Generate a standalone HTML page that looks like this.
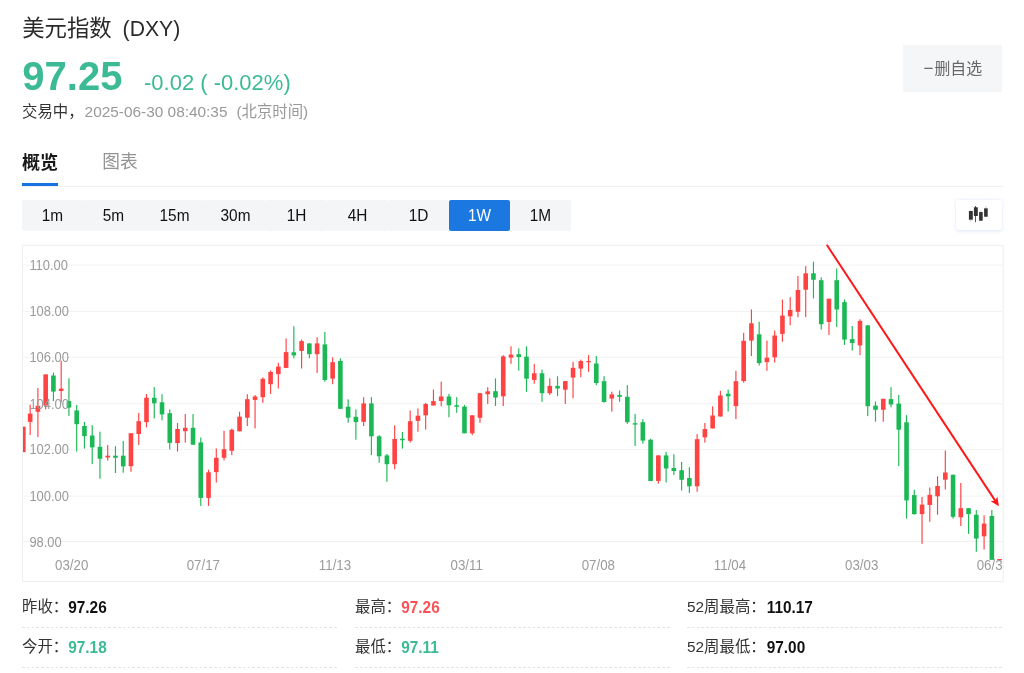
<!DOCTYPE html>
<html lang="zh-CN">
<head>
<meta charset="utf-8">
<title>美元指数 (DXY)</title>
<style>
*{box-sizing:border-box;margin:0;padding:0}
html,body{width:1024px;height:673px;overflow:hidden;background:#fff}
body{font-family:"Liberation Sans","Noto Sans CJK SC",sans-serif;color:#333;position:relative}
.abs{position:absolute;white-space:nowrap}
.title{left:22.2px;top:14px;font-size:22.4px;line-height:30px;color:#2a2a2a}
.title span{margin-left:4.6px;font-size:21.2px}
.price{left:22.3px;top:53.4px;font-size:40px;line-height:46px;font-weight:bold;color:#3bba95}
.chg{left:144px;top:69.6px;font-size:22px;line-height:26px;color:#3bba95}
.status{left:22px;top:101px;font-size:15.4px;line-height:22px;color:#333}
.status span{color:#999;margin-left:1px}.status i{font-style:normal;margin-left:4.6px}
.fav{left:902.5px;top:45px;width:99.3px;height:47px;background:#f5f6f8;color:#666;font-size:15.9px;line-height:47.2px;text-align:center;padding-left:1.4px}.fav span{position:relative;top:-.3px;font-size:17px;margin-right:.9px;line-height:1px}
.tab1{left:22px;top:149.8px;font-size:18.1px;line-height:26px;font-weight:bold;color:#181818}
.tab2{left:102.2px;top:149.4px;font-size:17.7px;line-height:26px;color:#939393}
.tabline{left:22px;top:183.3px;width:35.7px;height:2.9px;background:#1672e2}
.tabborder{left:22px;top:185.7px;width:981px;height:1px;background:#f0f0f0}
.tf{left:22px;top:200.2px;height:31.3px;display:flex}
.tf div{width:61px;height:31.3px;line-height:32.6px;text-align:center;font-size:15.4px;color:#111;background:#f4f5f7;border-radius:2px}
.tf span{display:inline-block;transform:scaleY(1.07);transform-origin:50% 55%}.tf div.on{background:#1a78e0;color:#fff}
.kbtn{left:956px;top:200px;width:46px;height:30px;background:#fff;border-radius:3px;box-shadow:0 .6px 3.5px rgba(40,100,200,.17)}
.stat{font-size:15.4px;line-height:22px;color:#333}
.stat b{font-weight:bold;color:#111;display:inline-block;transform:scaleY(1.13);transform-origin:50% 52%}
.stat b.r{color:#fb5257}
.stat b.g{color:#3bba95}
.dash{height:1px;background:repeating-linear-gradient(90deg,#e3e3e3 0,#e3e3e3 2.7px,transparent 2.7px,transparent 4.8px)}
</style>
</head>
<body>
<div class="abs title">美元指数 <span>(DXY)</span></div>
<div class="abs price">97.25</div>
<div class="abs chg">-0.02 ( -0.02%)</div>
<div class="abs status">交易中，<span>2025-06-30 08:40:35 <i>(北京时间)</i></span></div>
<div class="abs fav"><span>−</span>删自选</div>
<div class="abs tab1">概览</div>
<div class="abs tab2">图表</div>
<div class="abs tabborder"></div>
<div class="abs tabline"></div>
<div class="abs tf"><div><span>1m</span></div><div><span>5m</span></div><div><span>15m</span></div><div><span>30m</span></div><div><span>1H</span></div><div><span>4H</span></div><div><span>1D</span></div><div class="on"><span>1W</span></div><div><span>1M</span></div></div>
<div class="abs kbtn"><svg width="46" height="30" viewBox="956 200 46 30"><g fill="#333"><rect x="968.9" y="211" width="3.9" height="8.7" rx=".5"/><rect x="973.9" y="207.2" width="3.9" height="8.7" rx=".5"/><rect x="979.1" y="212.1" width="3.6" height="8.7" rx=".5"/><rect x="984.1" y="208.2" width="3.6" height="8.6" rx=".5"/><rect x="975.2" y="206" width=".8" height="16.3"/></g><g fill="#bbb"><rect x="970.5" y="209.7" width=".7" height="1.3"/><rect x="970.5" y="219.7" width=".7" height="2.3"/><rect x="980.6" y="210.4" width=".7" height="1.7"/><rect x="985.6" y="206" width=".7" height="2.2"/></g></svg></div>
<svg class="abs" style="left:0;top:240px" width="1024" height="346" viewBox="0 240 1024 346">
<defs><filter id="bl" x="0" y="240" width="1024" height="346" filterUnits="userSpaceOnUse"><feGaussianBlur stdDeviation="0.4"/></filter><clipPath id="cp"><rect x="23" y="245.8" width="979.7" height="335.1"/></clipPath></defs>
<rect x="22.5" y="245.3" width="980.7" height="336.1" fill="#fff" stroke="#eeeeee" stroke-width="1"/>
<rect x="23" y="264.6" width="979.7" height="1" fill="#f2f2f2"/>
<rect x="23" y="310.9" width="979.7" height="1" fill="#f2f2f2"/>
<rect x="23" y="356.8" width="979.7" height="1" fill="#f2f2f2"/>
<rect x="23" y="403.3" width="979.7" height="1" fill="#f2f2f2"/>
<rect x="23" y="448.9" width="979.7" height="1" fill="#f2f2f2"/>
<rect x="23" y="495.6" width="979.7" height="1" fill="#f2f2f2"/>
<rect x="23" y="541" width="979.7" height="1" fill="#f2f2f2"/>
<g clip-path="url(#cp)"><g filter="url(#bl)">
<g fill="#ff4243"><rect x="22.5" y="426.6" width="3.1" height="25.6"/><rect x="29.58" y="404.7" width="1.15" height="30.3"/><rect x="27.86" y="413.6" width="4.6" height="8.3"/><rect x="37.34" y="388" width="1.15" height="49.1"/><rect x="35.61" y="405.8" width="4.6" height="6"/><rect x="45.09" y="374.4" width="1.15" height="35"/><rect x="43.37" y="374.4" width="4.6" height="31.1"/><rect x="60.6" y="360.7" width="1.15" height="41.6"/><rect x="58.88" y="388.6" width="4.6" height="2.4"/><rect x="107.14" y="445" width="1.15" height="15.5"/><rect x="105.41" y="455.7" width="4.6" height="1.8"/><rect x="130.4" y="433.2" width="1.15" height="38.6"/><rect x="128.68" y="433.2" width="4.6" height="33"/><rect x="138.16" y="413" width="1.15" height="32"/><rect x="136.43" y="421.2" width="4.6" height="12.8"/><rect x="145.91" y="394" width="1.15" height="33.4"/><rect x="144.19" y="397.7" width="4.6" height="24.4"/><rect x="176.94" y="423" width="1.15" height="28.5"/><rect x="175.21" y="429" width="4.6" height="14.1"/><rect x="184.69" y="414.1" width="1.15" height="28.5"/><rect x="182.97" y="427.8" width="4.6" height="3.4"/><rect x="207.96" y="469.7" width="1.15" height="36.2"/><rect x="206.23" y="472.3" width="4.6" height="25.6"/><rect x="215.71" y="448.4" width="1.15" height="34.1"/><rect x="213.99" y="457.8" width="4.6" height="14.3"/><rect x="223.47" y="430.8" width="1.15" height="29.6"/><rect x="221.74" y="449.2" width="4.6" height="8.6"/><rect x="231.22" y="428.6" width="1.15" height="26.6"/><rect x="229.5" y="429.8" width="4.6" height="21"/><rect x="238.98" y="411.7" width="1.15" height="19.6"/><rect x="237.25" y="416.7" width="4.6" height="14.6"/><rect x="246.73" y="394.2" width="1.15" height="31.8"/><rect x="245.01" y="399.2" width="4.6" height="18.5"/><rect x="254.49" y="395" width="1.15" height="33.4"/><rect x="252.76" y="396.5" width="4.6" height="3.4"/><rect x="262.25" y="377.3" width="1.15" height="25.5"/><rect x="260.52" y="378.8" width="4.6" height="18.4"/><rect x="270" y="370.5" width="1.15" height="23.4"/><rect x="268.28" y="372" width="4.6" height="12.2"/><rect x="277.76" y="362.8" width="1.15" height="25.7"/><rect x="276.03" y="366.6" width="4.6" height="7.5"/><rect x="285.51" y="338.4" width="1.15" height="29.5"/><rect x="283.79" y="352.1" width="4.6" height="15.8"/><rect x="301.02" y="339.6" width="1.15" height="28.9"/><rect x="299.3" y="341.1" width="4.6" height="9.8"/><rect x="316.53" y="337.2" width="1.15" height="35.7"/><rect x="314.81" y="343.4" width="4.6" height="10.8"/><rect x="332.04" y="357.4" width="1.15" height="26.8"/><rect x="330.32" y="362.2" width="4.6" height="16.4"/><rect x="363.07" y="397.2" width="1.15" height="28.8"/><rect x="361.34" y="403.4" width="4.6" height="18.4"/><rect x="394.09" y="425.3" width="1.15" height="44"/><rect x="392.36" y="439" width="4.6" height="25.2"/><rect x="409.6" y="410.5" width="1.15" height="32.1"/><rect x="407.87" y="421.2" width="4.6" height="19.6"/><rect x="417.36" y="408.4" width="1.15" height="23.3"/><rect x="415.63" y="415.7" width="4.6" height="5.2"/><rect x="425.11" y="402.9" width="1.15" height="26.7"/><rect x="423.39" y="404" width="4.6" height="11.3"/><rect x="432.87" y="389.5" width="1.15" height="16"/><rect x="431.14" y="401.1" width="4.6" height="4.4"/><rect x="440.62" y="381.6" width="1.15" height="24.6"/><rect x="438.9" y="396.5" width="4.6" height="4.5"/><rect x="471.64" y="415.3" width="1.15" height="19.9"/><rect x="469.92" y="415.3" width="4.6" height="18"/><rect x="479.4" y="393.2" width="1.15" height="29.6"/><rect x="477.67" y="393.2" width="4.6" height="24.6"/><rect x="487.15" y="387.2" width="1.15" height="16.7"/><rect x="485.43" y="391.3" width="4.6" height="2.9"/><rect x="502.67" y="355.2" width="1.15" height="50.8"/><rect x="500.94" y="356.4" width="4.6" height="39.9"/><rect x="510.42" y="346.3" width="1.15" height="17.5"/><rect x="508.7" y="354.6" width="4.6" height="3"/><rect x="533.69" y="363.9" width="1.15" height="19.8"/><rect x="531.96" y="373.3" width="4.6" height="6.6"/><rect x="549.2" y="378.4" width="1.15" height="16.6"/><rect x="547.47" y="385.9" width="4.6" height="7.3"/><rect x="564.71" y="381.1" width="1.15" height="22.8"/><rect x="562.99" y="381.1" width="4.6" height="8.6"/><rect x="572.47" y="361.7" width="1.15" height="36.5"/><rect x="570.74" y="367.8" width="4.6" height="9.8"/><rect x="580.22" y="359.6" width="1.15" height="17.6"/><rect x="578.5" y="361.1" width="4.6" height="7.5"/><rect x="587.98" y="355.2" width="1.15" height="16.6"/><rect x="586.25" y="361.1" width="4.6" height="1.2"/><rect x="611.24" y="391.7" width="1.15" height="19.9"/><rect x="609.52" y="394.4" width="4.6" height="4.2"/><rect x="657.78" y="455.4" width="1.15" height="28.3"/><rect x="656.05" y="455.4" width="4.6" height="25.5"/><rect x="696.55" y="434.1" width="1.15" height="57.6"/><rect x="694.83" y="439.2" width="4.6" height="47.1"/><rect x="704.31" y="423" width="1.15" height="19.6"/><rect x="702.58" y="429.1" width="4.6" height="8.2"/><rect x="712.06" y="406.4" width="1.15" height="22.1"/><rect x="710.34" y="415.5" width="4.6" height="12.9"/><rect x="719.82" y="390.8" width="1.15" height="25.7"/><rect x="718.1" y="395.5" width="4.6" height="21"/><rect x="735.33" y="370.8" width="1.15" height="48.3"/><rect x="733.61" y="381.2" width="4.6" height="24.9"/><rect x="743.09" y="332.8" width="1.15" height="49.9"/><rect x="741.36" y="340.8" width="4.6" height="40.3"/><rect x="750.84" y="309.4" width="1.15" height="46.7"/><rect x="749.12" y="323.3" width="4.6" height="17.3"/><rect x="766.35" y="340.6" width="1.15" height="30.2"/><rect x="764.63" y="357.7" width="4.6" height="4.4"/><rect x="774.11" y="330.5" width="1.15" height="32.1"/><rect x="772.38" y="335.5" width="4.6" height="21.8"/><rect x="781.86" y="299.5" width="1.15" height="42.3"/><rect x="780.14" y="315.6" width="4.6" height="18.3"/><rect x="789.62" y="297.2" width="1.15" height="28"/><rect x="787.89" y="310" width="4.6" height="6.3"/><rect x="797.37" y="276" width="1.15" height="41.2"/><rect x="795.65" y="290" width="4.6" height="21.8"/><rect x="805.13" y="266.1" width="1.15" height="51"/><rect x="803.41" y="273.3" width="4.6" height="16.4"/><rect x="828.4" y="298.7" width="1.15" height="36.2"/><rect x="826.67" y="298.7" width="4.6" height="23.3"/><rect x="859.42" y="319.3" width="1.15" height="35.8"/><rect x="857.69" y="320.9" width="4.6" height="24.5"/><rect x="882.69" y="398.8" width="1.15" height="22.9"/><rect x="880.96" y="398.8" width="4.6" height="11"/><rect x="921.46" y="497" width="1.15" height="46.8"/><rect x="919.74" y="504.6" width="4.6" height="9.5"/><rect x="929.22" y="487.5" width="1.15" height="34.3"/><rect x="927.49" y="494.8" width="4.6" height="10.2"/><rect x="936.97" y="476.3" width="1.15" height="38.4"/><rect x="935.25" y="486" width="4.6" height="10.3"/><rect x="944.73" y="450.5" width="1.15" height="39"/><rect x="943" y="472.5" width="4.6" height="7.2"/><rect x="960.24" y="483" width="1.15" height="43"/><rect x="958.52" y="508.2" width="4.6" height="9.1"/><rect x="983.51" y="515.3" width="1.15" height="34.2"/><rect x="981.78" y="523.6" width="4.6" height="12.7"/><rect x="999.02" y="559" width="1.15" height="1.4"/><rect x="997.29" y="559" width="4.6" height="1.4"/></g>
<g fill="#1cb854"><rect x="52.85" y="372.6" width="1.15" height="28.5"/><rect x="51.12" y="375.5" width="4.6" height="16.1"/><rect x="68.36" y="378.3" width="1.15" height="37.6"/><rect x="66.63" y="401.1" width="4.6" height="6.5"/><rect x="76.11" y="404.9" width="1.15" height="46.7"/><rect x="74.39" y="410.4" width="4.6" height="13.8"/><rect x="83.87" y="421.9" width="1.15" height="26.7"/><rect x="82.14" y="426" width="4.6" height="10.1"/><rect x="91.62" y="425.2" width="1.15" height="38.9"/><rect x="89.9" y="435.5" width="4.6" height="11.9"/><rect x="99.38" y="431.7" width="1.15" height="47"/><rect x="97.65" y="446.8" width="4.6" height="11.9"/><rect x="114.89" y="446.2" width="1.15" height="26.8"/><rect x="113.17" y="455.7" width="4.6" height="2.1"/><rect x="122.65" y="440.9" width="1.15" height="31.8"/><rect x="120.92" y="455.7" width="4.6" height="10.7"/><rect x="153.67" y="387.1" width="1.15" height="31.4"/><rect x="151.94" y="397.7" width="4.6" height="5.6"/><rect x="161.42" y="394.2" width="1.15" height="26.1"/><rect x="159.7" y="402.3" width="4.6" height="12.1"/><rect x="169.18" y="409.5" width="1.15" height="39.9"/><rect x="167.45" y="413.2" width="4.6" height="29.7"/><rect x="192.45" y="414.1" width="1.15" height="30.6"/><rect x="190.72" y="427.8" width="4.6" height="16.9"/><rect x="200.2" y="437.5" width="1.15" height="68.4"/><rect x="198.48" y="442.4" width="4.6" height="55.5"/><rect x="293.27" y="326.2" width="1.15" height="32.1"/><rect x="291.54" y="352.3" width="4.6" height="3.1"/><rect x="308.78" y="343.4" width="1.15" height="14.9"/><rect x="307.05" y="343.4" width="4.6" height="10.7"/><rect x="324.29" y="331.9" width="1.15" height="49.9"/><rect x="322.56" y="344.4" width="4.6" height="35.6"/><rect x="339.8" y="358.3" width="1.15" height="50.5"/><rect x="338.08" y="361" width="4.6" height="47.8"/><rect x="347.56" y="399.3" width="1.15" height="23.5"/><rect x="345.83" y="406.7" width="4.6" height="11"/><rect x="355.31" y="409.4" width="1.15" height="30.3"/><rect x="353.59" y="416.8" width="4.6" height="5.3"/><rect x="370.82" y="397.2" width="1.15" height="57.9"/><rect x="369.1" y="403.4" width="4.6" height="32.9"/><rect x="378.58" y="435.1" width="1.15" height="27.7"/><rect x="376.85" y="436.3" width="4.6" height="20"/><rect x="386.33" y="454" width="1.15" height="27.8"/><rect x="384.61" y="455.4" width="4.6" height="8.8"/><rect x="401.84" y="431.9" width="1.15" height="16.7"/><rect x="400.12" y="438.7" width="4.6" height="1.5"/><rect x="448.38" y="393.9" width="1.15" height="23.4"/><rect x="446.65" y="396.5" width="4.6" height="8.8"/><rect x="456.13" y="397.1" width="1.15" height="15.7"/><rect x="454.41" y="405.3" width="4.6" height="1.5"/><rect x="463.89" y="405" width="1.15" height="28.3"/><rect x="462.16" y="406.6" width="4.6" height="26.7"/><rect x="494.91" y="378.4" width="1.15" height="27.6"/><rect x="493.19" y="391.2" width="4.6" height="6.3"/><rect x="518.18" y="348.3" width="1.15" height="22.3"/><rect x="516.45" y="354.2" width="4.6" height="2.8"/><rect x="525.93" y="346.3" width="1.15" height="45.5"/><rect x="524.21" y="356.6" width="4.6" height="22.1"/><rect x="541.44" y="369.5" width="1.15" height="32.3"/><rect x="539.72" y="373.3" width="4.6" height="19.9"/><rect x="556.95" y="376.3" width="1.15" height="19.9"/><rect x="555.23" y="385.9" width="4.6" height="2.6"/><rect x="595.73" y="356" width="1.15" height="29.1"/><rect x="594.01" y="363.5" width="4.6" height="19.5"/><rect x="603.49" y="376.2" width="1.15" height="26.5"/><rect x="601.76" y="381.2" width="4.6" height="20.8"/><rect x="619" y="390.5" width="1.15" height="11.3"/><rect x="617.27" y="394.9" width="4.6" height="1.9"/><rect x="626.75" y="385.1" width="1.15" height="38.7"/><rect x="625.03" y="396.8" width="4.6" height="25.4"/><rect x="634.51" y="413.9" width="1.15" height="32.1"/><rect x="632.78" y="423.2" width="4.6" height="1.4"/><rect x="642.26" y="419.2" width="1.15" height="24.4"/><rect x="640.54" y="422.2" width="4.6" height="18.4"/><rect x="650.02" y="438.9" width="1.15" height="42.1"/><rect x="648.3" y="439.7" width="4.6" height="41.3"/><rect x="665.53" y="451.9" width="1.15" height="30.6"/><rect x="663.81" y="455.4" width="4.6" height="13.1"/><rect x="673.29" y="454.2" width="1.15" height="20.8"/><rect x="671.56" y="468" width="4.6" height="3"/><rect x="681.04" y="462" width="1.15" height="28.5"/><rect x="679.32" y="470.2" width="4.6" height="9.6"/><rect x="688.8" y="467.2" width="1.15" height="25.7"/><rect x="687.07" y="478" width="4.6" height="8.3"/><rect x="727.58" y="389.6" width="1.15" height="21.9"/><rect x="725.85" y="393.7" width="4.6" height="2.6"/><rect x="758.6" y="321.8" width="1.15" height="43.7"/><rect x="756.87" y="334.3" width="4.6" height="28.8"/><rect x="812.89" y="261.7" width="1.15" height="36.7"/><rect x="811.16" y="273.3" width="4.6" height="6.5"/><rect x="820.64" y="277.4" width="1.15" height="52.2"/><rect x="818.92" y="280.2" width="4.6" height="44"/><rect x="836.15" y="268.5" width="1.15" height="58.4"/><rect x="834.43" y="280.2" width="4.6" height="29.3"/><rect x="843.91" y="299.4" width="1.15" height="45.6"/><rect x="842.18" y="302.1" width="4.6" height="37.5"/><rect x="851.66" y="326" width="1.15" height="24.6"/><rect x="849.94" y="339.1" width="4.6" height="3.9"/><rect x="867.17" y="324.9" width="1.15" height="91.2"/><rect x="865.45" y="325.4" width="4.6" height="80.8"/><rect x="874.93" y="401.5" width="1.15" height="20.2"/><rect x="873.2" y="405.6" width="4.6" height="4.2"/><rect x="890.44" y="387.1" width="1.15" height="20.3"/><rect x="888.72" y="399.1" width="4.6" height="5.4"/><rect x="898.2" y="395" width="1.15" height="71"/><rect x="896.47" y="403.6" width="4.6" height="26.1"/><rect x="905.95" y="415.1" width="1.15" height="103.5"/><rect x="904.23" y="422.3" width="4.6" height="78.1"/><rect x="913.71" y="489.8" width="1.15" height="24.9"/><rect x="911.98" y="495.1" width="4.6" height="19"/><rect x="952.48" y="474.7" width="1.15" height="43.9"/><rect x="950.76" y="474.7" width="4.6" height="42.1"/><rect x="968" y="508.2" width="1.15" height="25.7"/><rect x="966.27" y="508.2" width="4.6" height="5.9"/><rect x="975.75" y="510" width="1.15" height="41.8"/><rect x="974.03" y="514.7" width="4.6" height="23.8"/><rect x="991.26" y="510" width="1.15" height="49.8"/><rect x="989.54" y="515.9" width="4.6" height="43.9"/></g>
</g></g>
<g font-family="'Liberation Sans',sans-serif" font-size="12.9" fill="#9b9b9b">
<text x="29.4" y="269.7" transform="translate(0 265.1) scale(1 1.09) translate(0 -265.1)">110.00</text>
<text x="29.4" y="316" transform="translate(0 311.4) scale(1 1.09) translate(0 -311.4)">108.00</text>
<text x="29.4" y="361.9" transform="translate(0 357.3) scale(1 1.09) translate(0 -357.3)">106.00</text>
<text x="29.4" y="408.4" transform="translate(0 403.8) scale(1 1.09) translate(0 -403.8)">104.00</text>
<text x="29.4" y="454" transform="translate(0 449.4) scale(1 1.09) translate(0 -449.4)">102.00</text>
<text x="29.4" y="500.7" transform="translate(0 496.1) scale(1 1.09) translate(0 -496.1)">100.00</text>
<text x="29.4" y="546.1" transform="translate(0 541.5) scale(1 1.09) translate(0 -541.5)">98.00</text>
</g>
<g clip-path="url(#cp)" font-family="'Liberation Sans',sans-serif" font-size="13.3" fill="#9b9b9b" text-anchor="middle">
<text x="71.7" y="570.1" transform="translate(0 565.4) scale(1 1.07) translate(0 -565.4)">03/20</text>
<text x="203.36" y="570.1" transform="translate(0 565.4) scale(1 1.07) translate(0 -565.4)">07/17</text>
<text x="335.02" y="570.1" transform="translate(0 565.4) scale(1 1.07) translate(0 -565.4)">11/13</text>
<text x="466.68" y="570.1" transform="translate(0 565.4) scale(1 1.07) translate(0 -565.4)">03/11</text>
<text x="598.34" y="570.1" transform="translate(0 565.4) scale(1 1.07) translate(0 -565.4)">07/08</text>
<text x="730" y="570.1" transform="translate(0 565.4) scale(1 1.07) translate(0 -565.4)">11/04</text>
<text x="861.66" y="570.1" transform="translate(0 565.4) scale(1 1.07) translate(0 -565.4)">03/03</text>
<text x="993.32" y="570.1" transform="translate(0 565.4) scale(1 1.07) translate(0 -565.4)">06/30</text>
</g>
<line x1="826.75" y1="244.8" x2="995.16" y2="500.62" stroke="#ff1616" stroke-width="1.95"/>
<polygon points="998.9,506.3 990.72,501.15 995.16,500.62 997.4,496.75" fill="#ff1616"/>
</svg>
<div class="abs stat" style="left:22px;top:596px">昨收：<b>97.26</b></div>
<div class="abs stat" style="left:355px;top:596px">最高：<b class="r">97.26</b></div>
<div class="abs stat" style="left:687px;top:596px">52周最高：<b style="margin-left:1px">110.17</b></div>
<div class="abs stat" style="left:22px;top:636px">今开：<b class="g">97.18</b></div>
<div class="abs stat" style="left:355px;top:636px">最低：<b class="g">97.11</b></div>
<div class="abs stat" style="left:687px;top:636px">52周最低：<b style="margin-left:1px">97.00</b></div>
<div class="abs dash" style="left:22px;top:627px;width:315px"></div>
<div class="abs dash" style="left:355px;top:627px;width:315px"></div>
<div class="abs dash" style="left:687px;top:627px;width:315px"></div>
<div class="abs dash" style="left:22px;top:667px;width:315px"></div>
<div class="abs dash" style="left:355px;top:667px;width:315px"></div>
<div class="abs dash" style="left:687px;top:667px;width:315px"></div>
</body>
</html>
